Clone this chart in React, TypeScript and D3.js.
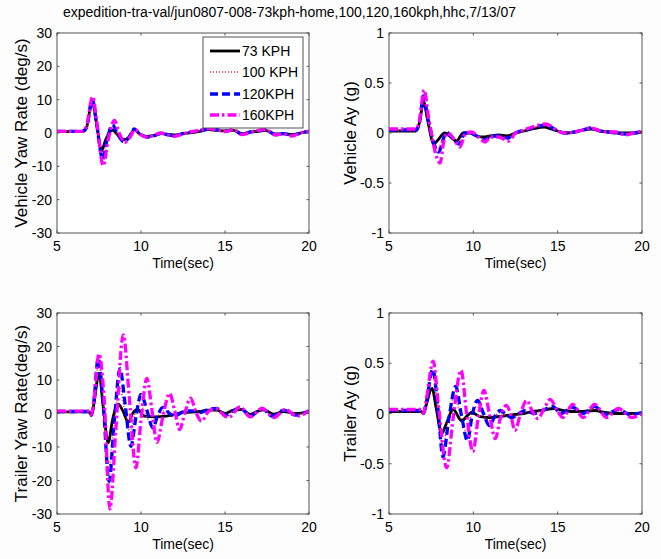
import React, { useEffect } from "react";
import * as d3 from "d3";

type Pt = [number, number];

const TITLE = "expedition-tra-val/jun0807-008-73kph-home,100,120,160kph,hhc,7/13/07";
const SERIES_NAMES = ["73 KPH", "100 KPH", "120KPH", "160KPH"];
const X_TICKS = [5, 10, 15, 20];
const YAW_TICKS = [-30, -20, -10, 0, 10, 20, 30];
const AY_TICKS = [-1, -0.5, 0, 0.5, 1];

// Vehicle yaw rate (deg/s)
const vehYaw73: Pt[] = [[5,0.4],[6.5,0.4],[6.75,1.5],[7.1,9.8],[7.35,3],[7.65,-5.3],[7.9,-2],[8.3,0.9],[8.6,-0.5],[9.0,-2.0],[9.3,-1.2],[9.6,1.0],[9.9,-0.2],[10.3,-1.0],[10.8,-0.7],[11.2,-0.2],[11.6,-0.4],[12.0,-0.6],[12.5,-0.2],[13.0,0.1],[13.5,0.5],[14.0,1.0],[14.5,0.8],[15.0,0.6],[15.5,0.8],[16.0,-0.2],[16.5,0.3],[17.0,0.5],[17.4,0.8],[18.0,-0.3],[18.5,-0.2],[19.0,-0.5],[19.5,0],[20,0.5]];
const vehYaw100: Pt[] = [[5,0.4],[6.5,0.4],[6.75,1.5],[7.1,9.7],[7.35,3],[7.7,-6.8],[7.95,-2],[8.3,1.8],[8.6,-0.5],[9.0,-2.4],[9.3,-1.2],[9.6,1.1],[9.9,-0.2],[10.35,-1.1],[10.8,-0.8],[11.2,-0.1],[11.6,-0.4],[12.0,-0.7],[12.5,-0.2],[13.0,0.2],[13.5,0.6],[14.0,1.1],[14.5,0.9],[15.0,0.5],[15.5,0.9],[16.0,-0.3],[16.5,0.3],[17.0,0.6],[17.4,0.9],[18.0,-0.4],[18.5,-0.2],[19.0,-0.6],[19.5,0],[20,0.5]];
const vehYaw120: Pt[] = [[5,0.5],[6.5,0.5],[6.75,1.6],[7.1,9.9],[7.35,3],[7.72,-7.8],[7.98,-2],[8.3,2.5],[8.6,-0.3],[9.0,-2.7],[9.3,-1.2],[9.6,1.2],[9.9,-0.2],[10.35,-1.2],[10.8,-0.8],[11.2,-0.1],[11.6,-0.5],[12.0,-0.8],[12.5,-0.2],[13.0,0.3],[13.5,0.7],[14.0,1.2],[14.5,1.0],[15.0,0.5],[15.5,1.0],[16.0,-0.4],[16.5,0.3],[17.0,0.7],[17.4,1.0],[18.0,-0.5],[18.5,-0.2],[19.0,-0.7],[19.5,0],[20,0.5]];
const vehYaw160: Pt[] = [[5,0.5],[6.5,0.5],[6.75,1.8],[7.12,10.9],[7.38,3],[7.75,-9.8],[8.05,-2],[8.42,3.8],[8.7,0],[9.05,-2.8],[9.35,-1.2],[9.65,1.0],[9.95,-0.4],[10.4,-1.3],[10.8,-0.6],[11.2,0],[11.6,-0.6],[11.95,-1.0],[12.5,-0.3],[13.0,0.4],[13.5,0.8],[14.0,1.3],[14.5,1.0],[15.0,0.4],[15.5,1.0],[16.0,-0.5],[16.5,0.2],[17.0,0.8],[17.4,1.1],[18.0,-0.6],[18.5,-0.3],[19.0,-0.9],[19.5,0],[20,0.6]];

// Vehicle Ay (g)
const vehAy73: Pt[] = [[5,0.02],[6.6,0.02],[6.8,0.1],[7.05,0.31],[7.3,0.12],[7.65,-0.11],[7.9,-0.07],[8.3,0.0],[8.6,-0.03],[9.0,-0.08],[9.4,0.0],[9.8,0.0],[10.2,-0.03],[10.6,-0.04],[11.0,-0.03],[11.5,-0.02],[12.0,-0.03],[12.5,0.0],[13.0,0.02],[13.5,0.04],[14.2,0.06],[14.6,0.04],[15.0,0.02],[15.5,0.0],[16.0,0.01],[16.5,0.03],[17.0,0.04],[17.5,0.02],[18.0,0.01],[18.5,0.0],[19.0,0.0],[19.5,0.0],[20,0.01]];
const vehAy100: Pt[] = [[5,0.02],[6.6,0.02],[6.8,0.1],[7.05,0.34],[7.3,0.14],[7.9,-0.16],[8.15,-0.07],[8.4,0.0],[8.7,-0.04],[9.1,-0.1],[9.45,0.0],[9.8,0.0],[10.2,-0.03],[10.7,-0.06],[11.0,-0.03],[11.5,-0.03],[12.0,-0.04],[12.5,0.0],[13.0,0.02],[13.5,0.05],[14.3,0.07],[14.6,0.05],[15.0,0.02],[15.5,0.0],[16.0,0.01],[16.5,0.03],[17.0,0.05],[17.5,0.02],[18.0,0.01],[18.5,0.0],[19.0,0.0],[19.5,0.0],[20,0.01]];
const vehAy120: Pt[] = [[5,0.03],[6.6,0.03],[6.8,0.1],[7.05,0.37],[7.3,0.15],[7.95,-0.19],[8.2,-0.07],[8.4,0.01],[8.75,-0.05],[9.15,-0.11],[9.5,0.0],[9.8,0.0],[10.2,-0.03],[10.7,-0.07],[11.0,-0.03],[11.5,-0.03],[12.05,-0.05],[12.5,0.0],[13.0,0.03],[13.5,0.05],[14.3,0.08],[14.6,0.06],[15.0,0.02],[15.5,0.0],[16.0,0.01],[16.5,0.03],[17.0,0.05],[17.5,0.02],[18.0,0.01],[18.5,0.0],[19.0,-0.01],[19.5,0.0],[20,0.01]];
const vehAy160: Pt[] = [[5,0.04],[6.6,0.04],[6.8,0.12],[7.08,0.43],[7.35,0.15],[8.03,-0.30],[8.25,-0.08],[8.5,0.0],[8.85,-0.06],[9.2,-0.14],[9.55,0.0],[9.9,0.01],[10.3,-0.04],[10.7,-0.09],[11.0,-0.04],[11.5,-0.04],[12.1,-0.08],[12.5,0.0],[13.0,0.03],[13.5,0.06],[14.3,0.09],[14.6,0.07],[15.0,0.02],[15.5,0.0],[16.0,0.01],[16.5,0.03],[17.0,0.05],[17.5,0.02],[18.0,0.01],[18.5,0.01],[19.0,-0.02],[19.5,0.0],[20,0.02]];

// Trailer yaw rate (deg/s)
const trlYaw73: Pt[] = [[5,0.5],[6.9,0.5],[7.05,-0.5],[7.2,3],[7.5,12],[7.75,2],[8.05,-8.7],[8.3,-2],[8.65,2.8],[8.9,1],[9.25,-2.6],[9.5,0],[9.8,1.2],[10.2,-0.8],[10.8,-1.0],[11.5,-0.8],[12.0,-0.3],[12.5,0.3],[13.0,0.4],[13.5,0.6],[14.0,1.0],[14.5,1.0],[15.0,0],[15.5,1.0],[16.0,1.2],[16.5,-0.3],[17.0,0.8],[17.3,1.1],[17.9,-0.2],[18.5,0.6],[19.2,0],[20,0.5]];
const trlYaw100: Pt[] = [[5,0.5],[6.9,0.5],[7.05,-0.5],[7.2,3.5],[7.48,15],[7.75,3],[8.1,-15.5],[8.4,-3],[8.72,8],[9.0,2],[9.35,-5.5],[9.6,-0.5],[9.9,3],[10.25,0],[10.55,-2.5],[11.0,-0.8],[11.4,0.8],[12.0,-0.5],[12.5,0.4],[13.0,0.6],[13.5,0.4],[14.0,1.0],[14.5,1.3],[15.0,-0.3],[15.5,0.8],[15.9,1.5],[16.5,-0.6],[17.2,1.3],[17.8,-0.6],[18.5,0.8],[19.2,-0.3],[20,0.6]];
const trlYaw120: Pt[] = [[5,0.6],[6.9,0.6],[7.05,-0.5],[7.2,4],[7.45,16.5],[7.75,3],[8.1,-20.3],[8.4,-3],[8.75,13.4],[9.05,3],[9.4,-9.8],[9.7,-1],[10.0,5.7],[10.35,1],[10.7,-4.3],[11.0,-0.5],[11.3,1.8],[11.7,0],[12.0,-0.8],[12.5,0.5],[13.0,0.8],[13.5,0.3],[14.0,1.2],[14.5,1.5],[15.0,-0.5],[15.4,0.5],[15.9,1.8],[16.5,-0.8],[17.2,1.5],[17.8,-0.8],[18.5,1.0],[19.2,-0.5],[20,0.8]];
const trlYaw160: Pt[] = [[5,0.7],[6.9,0.7],[7.05,-0.3],[7.2,4],[7.5,17.8],[7.8,5],[8.15,-28.5],[8.5,-5],[8.95,23.5],[9.3,5],[9.7,-16.2],[10.0,-2],[10.35,10.5],[10.65,1],[10.95,-8.7],[11.3,-1],[11.7,6],[12.0,1],[12.3,-4.8],[12.6,0],[12.95,4.6],[13.3,0],[13.6,-2.3],[14.0,0.5],[14.45,1.5],[15.0,-0.8],[15.2,-1.2],[15.9,2],[16.5,-1],[17.2,1.5],[17.9,-1.2],[18.6,1.2],[19.3,-0.8],[20,0.8]];

// Trailer Ay (g)
const trlAy73: Pt[] = [[5,0.02],[6.9,0.02],[7.05,0.0],[7.2,0.08],[7.55,0.25],[7.8,0.05],[8.12,-0.2],[8.4,-0.1],[8.8,0.04],[9.3,-0.07],[9.9,0.01],[10.4,-0.03],[11.0,-0.04],[11.5,-0.03],[12.0,-0.02],[12.5,-0.01],[13.0,0.0],[13.5,0.02],[14.0,0.03],[14.8,0.05],[15.3,0.03],[15.8,0.02],[16.5,0.02],[17.2,0.03],[17.8,0.01],[18.5,0.0],[19.2,0.0],[20,0.0]];
const trlAy100: Pt[] = [[5,0.02],[6.9,0.02],[7.05,0.0],[7.2,0.09],[7.58,0.40],[7.88,0.05],[8.2,-0.33],[8.5,-0.05],[8.9,0.18],[9.2,-0.01],[9.55,-0.17],[9.9,0.0],[10.2,0.07],[10.55,0.0],[10.9,-0.07],[11.3,-0.02],[11.6,0.01],[12.0,-0.03],[12.4,-0.03],[12.8,0.0],[13.1,0.02],[13.6,0.01],[14.0,0.02],[14.7,0.06],[15.2,0.01],[15.9,0.05],[16.5,0.0],[17.2,0.05],[17.8,0.0],[18.6,0.03],[19.3,-0.01],[20,0.01]];
const trlAy120: Pt[] = [[5,0.03],[6.9,0.03],[7.05,0.0],[7.2,0.1],[7.6,0.44],[7.9,0.05],[8.2,-0.43],[8.55,-0.05],[8.95,0.27],[9.3,-0.02],[9.65,-0.27],[9.95,0.0],[10.25,0.13],[10.6,0.0],[10.95,-0.12],[11.3,-0.02],[11.6,0.03],[12.0,-0.02],[12.3,-0.04],[12.7,0.0],[13.1,0.03],[13.6,0.0],[14.0,0.02],[14.7,0.07],[15.2,0.0],[15.9,0.06],[16.5,0.0],[17.2,0.07],[17.8,-0.01],[18.6,0.04],[19.3,-0.01],[20,0.01]];
const trlAy160: Pt[] = [[5,0.04],[6.9,0.04],[7.05,0.0],[7.2,0.12],[7.62,0.52],[7.95,0.05],[8.42,-0.54],[8.8,-0.05],[9.27,0.43],[9.6,0.0],[9.97,-0.38],[10.3,-0.03],[10.63,0.23],[10.95,0.0],[11.3,-0.25],[11.6,-0.05],[11.95,0.08],[12.2,0.0],[12.47,-0.17],[12.8,0.0],[13.16,0.13],[13.5,0.02],[13.83,-0.05],[14.2,0.05],[14.55,0.14],[14.95,0.04],[15.3,-0.04],[15.9,0.09],[16.5,-0.04],[17.2,0.09],[17.9,-0.04],[18.6,0.05],[19.4,-0.04],[20,0.0]];

const STYLES = [
  { color: "#000000", width: 2.8, dash: "" },
  { color: "#ff2020", width: 1.5, dash: "1 2" },
  { color: "#0000ff", width: 3.3, dash: "8 4" },
  { color: "#ff00ff", width: 3.3, dash: "9 3 2.5 3" },
];

const FONT = "'Liberation Sans', Arial, Helvetica, sans-serif";

type Panel = {
  key: string;
  x0: number; x1: number; y0: number; y1: number;
  domain: [number, number];
  ticks: number[];
  ylabel: string;
  ylabelX: number;
  series: Pt[][];
};

const PANELS: Panel[] = [
  { key: "tl", x0: 57, x1: 309, y0: 33, y1: 233, domain: [-30, 30], ticks: YAW_TICKS, ylabel: "Vehicle Yaw Rate (deg/s)", ylabelX: 27, series: [vehYaw73, vehYaw100, vehYaw120, vehYaw160] },
  { key: "tr", x0: 389, x1: 642, y0: 33, y1: 233, domain: [-1, 1], ticks: AY_TICKS, ylabel: "Vehicle Ay (g)", ylabelX: 356, series: [vehAy73, vehAy100, vehAy120, vehAy160] },
  { key: "bl", x0: 57, x1: 309, y0: 313, y1: 514, domain: [-30, 30], ticks: YAW_TICKS, ylabel: "Trailer Yaw Rate(deg/s)", ylabelX: 27, series: [trlYaw73, trlYaw100, trlYaw120, trlYaw160] },
  { key: "br", x0: 389, x1: 642, y0: 313, y1: 514, domain: [-1, 1], ticks: AY_TICKS, ylabel: "Trailer Ay (g)", ylabelX: 356, series: [trlAy73, trlAy100, trlAy120, trlAy160] },
];

function PanelView({ p }: { p: Panel }) {
  const x = d3.scaleLinear().domain([5, 20]).range([p.x0, p.x1]);
  const y = d3.scaleLinear().domain(p.domain).range([p.y1, p.y0]);
  const line = d3.line<Pt>().x((d) => x(d[0])).y((d) => y(d[1])).curve(d3.curveMonotoneX);
  const tl = 2.5;
  const cy = (p.y0 + p.y1) / 2;
  return (
    <g>
      <defs>
        <clipPath id={"clip-" + p.key}>
          <rect x={p.x0} y={p.y0} width={p.x1 - p.x0} height={p.y1 - p.y0} />
        </clipPath>
      </defs>
      <rect x={p.x0} y={p.y0} width={p.x1 - p.x0} height={p.y1 - p.y0} fill="#ffffff" />
      <g clipPath={`url(#clip-${p.key})`}>
        {p.series.map((s, i) => (
          <path key={i} d={line(s) || ""} fill="none" stroke={STYLES[i].color} strokeWidth={STYLES[i].width}
            strokeDasharray={STYLES[i].dash || undefined} strokeLinejoin="round" />
        ))}
      </g>
      <rect x={p.x0} y={p.y0} width={p.x1 - p.x0} height={p.y1 - p.y0} fill="none" stroke="#555" strokeWidth={1} />
      {X_TICKS.map((t) => (
        <g key={"xt" + t}>
          <line x1={x(t)} x2={x(t)} y1={p.y1} y2={p.y1 - tl} stroke="#555" />
          <line x1={x(t)} x2={x(t)} y1={p.y0} y2={p.y0 + tl} stroke="#555" />
          <text x={x(t)} y={p.y1 + 18} textAnchor="middle" fontSize={14} fontFamily={FONT} fill="#000">{t}</text>
        </g>
      ))}
      {p.ticks.map((t) => (
        <g key={"yt" + t}>
          <line x1={p.x0} x2={p.x0 + tl} y1={y(t)} y2={y(t)} stroke="#555" />
          <line x1={p.x1} x2={p.x1 - tl} y1={y(t)} y2={y(t)} stroke="#555" />
          <text x={p.x0 - 5} y={y(t) + 5} textAnchor="end" fontSize={14} fontFamily={FONT} fill="#000">{String(t)}</text>
        </g>
      ))}
      <text x={(p.x0 + p.x1) / 2} y={p.y1 + 35} textAnchor="middle" fontSize={14} fontFamily={FONT} fill="#000">Time(sec)</text>
      <text transform={`translate(${p.ylabelX},${cy}) rotate(-90)`} textAnchor="middle" fontSize={17} fontFamily={FONT} fill="#000">{p.ylabel}</text>
    </g>
  );
}

function Legend() {
  const rows = [51, 72, 94, 115];
  return (
    <g>
      <rect x={203} y={37} width={100} height={91} fill="#ffffff" stroke="#555" strokeWidth={1} />
      {SERIES_NAMES.map((n, i) => (
        <g key={n}>
          <line x1={210} x2={240} y1={rows[i]} y2={rows[i]} stroke={STYLES[i].color} strokeWidth={STYLES[i].width}
            strokeDasharray={STYLES[i].dash || undefined} />
          <text x={242} y={rows[i] + 5} fontSize={14} fontFamily={FONT} fill="#000">{n}</text>
        </g>
      ))}
    </g>
  );
}

export default function App() {
  useEffect(() => {
    document.body.style.margin = "0";
  }, []);
  return (
    <svg width={661} height={559} viewBox="0 0 661 559" style={{ position: "absolute", left: 0, top: 0, background: "#fdfdfd" }}>
      <rect x={0} y={0} width={661} height={559} fill="#fdfdfd" />
      <text x={63} y={17} fontSize={14} fontFamily={FONT} fill="#000">{TITLE}</text>
      {PANELS.map((p) => <PanelView key={p.key} p={p} />)}
      <Legend />
    </svg>
  );
}
